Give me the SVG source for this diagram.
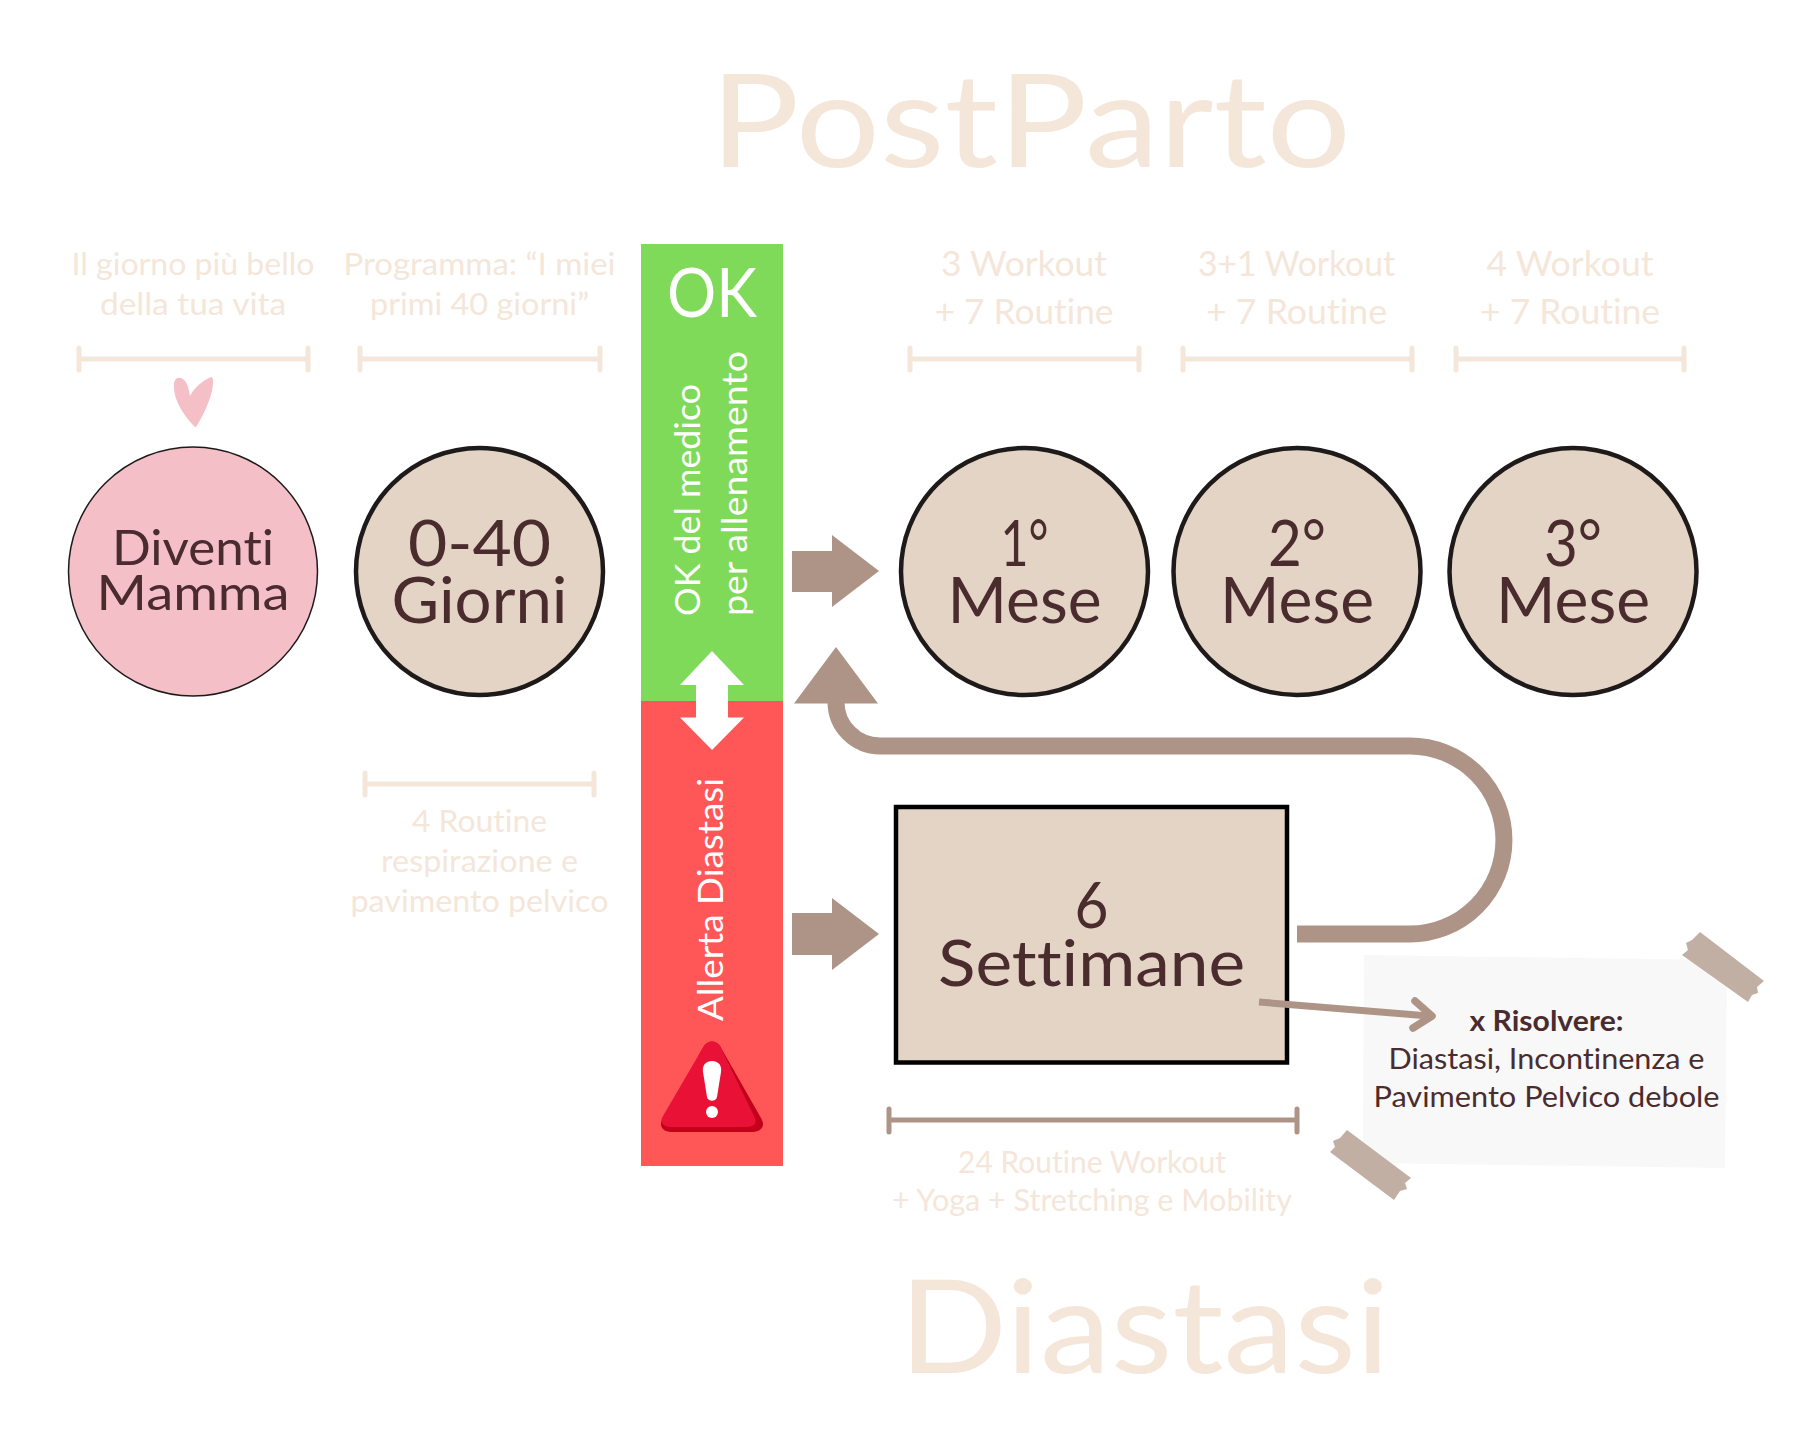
<svg xmlns="http://www.w3.org/2000/svg" width="1820" height="1440" viewBox="0 0 1820 1440">
<style>
text{font-family:"Lato","Noto Sans",sans-serif;text-anchor:middle;font-variant-ligatures:none}
.pale{fill:#f5e6da}
.dark{fill:#4a2c2e}
.white{fill:#fff}
.s{font-size:31px}
.m{font-size:34px}
.big{font-size:64px}
.circ{fill:#e3d4c5;stroke:#1e1a1a;stroke-width:4.5}
.bar{fill:none;stroke:#f5e6da;stroke-width:5;stroke-linecap:round}
.brown{fill:#ad9487}
.tape{fill:#c1afa3}
</style>
<rect width="1820" height="1440" fill="#fff"/>
<g id="title-postparto"><text class="pale" x="1030.5" y="167" font-size="129" textLength="641" lengthAdjust="spacingAndGlyphs">PostParto</text></g>
<g id="title-diastasi"><text class="pale" x="1144.5" y="1373" font-size="129" textLength="491" lengthAdjust="spacingAndGlyphs">Diastasi</text></g>

<g id="labels-top">
<text class="pale s" x="193" y="275" textLength="243" lengthAdjust="spacingAndGlyphs">Il giorno più bello</text>
<text class="pale s" x="193" y="315" textLength="186" lengthAdjust="spacingAndGlyphs">della tua vita</text>
<text class="pale s" x="479.5" y="275" textLength="272" lengthAdjust="spacingAndGlyphs">Programma: “I miei</text>
<text class="pale s" x="479.5" y="315" textLength="219" lengthAdjust="spacingAndGlyphs">primi 40 giorni”</text>
<text class="pale m" x="1024" y="276" textLength="166" lengthAdjust="spacingAndGlyphs">3 Workout</text>
<text class="pale m" x="1024" y="324" textLength="179" lengthAdjust="spacingAndGlyphs">+ 7 Routine</text>
<text class="pale m" x="1296.5" y="276" textLength="197" lengthAdjust="spacingAndGlyphs">3+1 Workout</text>
<text class="pale m" x="1296.5" y="324" textLength="181" lengthAdjust="spacingAndGlyphs">+ 7 Routine</text>
<text class="pale m" x="1570" y="276" textLength="167" lengthAdjust="spacingAndGlyphs">4 Workout</text>
<text class="pale m" x="1570" y="324" textLength="180" lengthAdjust="spacingAndGlyphs">+ 7 Routine</text>
</g>
<g id="bars">
<path class="bar" d="M79 359H308M79 348V370M308 348V370"/>
<path class="bar" d="M360 359H600M360 348V370M600 348V370"/>
<path class="bar" d="M910 359H1139M910 348V370M1139 348V370"/>
<path class="bar" d="M1183 359H1412M1183 348V370M1412 348V370"/>
<path class="bar" d="M1456 359H1684M1456 348V370M1684 348V370"/>
<path class="bar" d="M365 784H594M365 773V795M594 773V795"/>
<path class="bar" style="stroke:#ad9487" d="M889 1120H1297M889 1109V1132M1297 1109V1132"/>
</g>
<g id="labels-bottom">
<text class="pale s" x="479.5" y="832" textLength="135" lengthAdjust="spacingAndGlyphs">4 Routine</text>
<text class="pale s" x="479.5" y="872" textLength="197" lengthAdjust="spacingAndGlyphs">respirazione e</text>
<text class="pale s" x="479.5" y="912" textLength="258" lengthAdjust="spacingAndGlyphs">pavimento pelvico</text>
<text class="pale s" x="1092" y="1173" font-size="29" textLength="268" lengthAdjust="spacingAndGlyphs">24 Routine Workout</text>
<text class="pale s" x="1092" y="1211" font-size="29" textLength="400" lengthAdjust="spacingAndGlyphs">+ Yoga + Stretching e Mobility</text>
</g>

<g id="heart"><path fill="#f4bfc6" d="M195 427C186 418 174 402 174 387C173 377 180 376 184 380C188 384 189 390 190 396C194 388 202 381 211 377C214 377 213 385 212 391C209 403 202 418 196 427Z"/></g>

<g id="node-diventi"><circle cx="193" cy="571.5" r="124.5" fill="#f4bfc6" stroke="#1e1a1a" stroke-width="1.5"/>
<text class="dark" font-size="49" x="193" y="565" textLength="162" lengthAdjust="spacingAndGlyphs">Diventi</text>
<text class="dark" font-size="49" x="193" y="610" textLength="193" lengthAdjust="spacingAndGlyphs">Mamma</text></g>
<g id="node-040"><circle class="circ" cx="479.5" cy="571.5" r="123.5"/>
<text class="dark big" x="479.5" y="566" textLength="143" lengthAdjust="spacingAndGlyphs">0-40</text>
<text class="dark big" x="479.5" y="623" textLength="176" lengthAdjust="spacingAndGlyphs">Giorni</text></g>
<g id="node-1mese"><circle class="circ" cx="1024.5" cy="571.5" r="123.5"/>
<text class="dark big" x="1024.5" y="566" textLength="48" lengthAdjust="spacingAndGlyphs">1°</text>
<text class="dark big" x="1024.5" y="623" textLength="154" lengthAdjust="spacingAndGlyphs">Mese</text></g>
<g id="node-2mese"><circle class="circ" cx="1297" cy="571.5" r="123.5"/>
<text class="dark big" x="1297" y="566" textLength="58" lengthAdjust="spacingAndGlyphs">2°</text>
<text class="dark big" x="1297" y="623" textLength="154" lengthAdjust="spacingAndGlyphs">Mese</text></g>
<g id="node-3mese"><circle class="circ" cx="1573" cy="571.5" r="123.5"/>
<text class="dark big" x="1573" y="566" textLength="58" lengthAdjust="spacingAndGlyphs">3°</text>
<text class="dark big" x="1573" y="623" textLength="154" lengthAdjust="spacingAndGlyphs">Mese</text></g>

<g id="node-status">
<rect x="641" y="244" width="142" height="457" fill="#80da5a"/>
<rect x="641" y="701" width="142" height="465" fill="#ff5757"/>
<text class="white" x="712" y="317" font-size="67" textLength="90" lengthAdjust="spacingAndGlyphs">OK</text>
<text class="white" font-size="34" transform="translate(700 500) rotate(-90)" textLength="232" lengthAdjust="spacingAndGlyphs">OK del medico</text>
<text class="white" font-size="34" transform="translate(747 483.5) rotate(-90)" textLength="265" lengthAdjust="spacingAndGlyphs">per allenamento</text>
<text class="white" font-size="34" transform="translate(723 899.5) rotate(-90)" textLength="243" lengthAdjust="spacingAndGlyphs">Allerta Diastasi</text>
<path class="white" d="M712 651L744 685H728V717.5H744L712 750L680 717.5H696V685H680Z"/>
<path fill="#c4001a" d="M704 1046C708 1040 716 1040 720 1046L761 1118C766 1126 761 1132 753 1132H671C663 1132 658 1126 663 1118Z"/>
<path fill="#ea1136" d="M704 1046C708 1040 716 1040 720 1046L754 1116C758 1123 754 1127 747 1127H671C663 1127 659 1122 663 1116Z"/>
<path fill="#fff" d="M712 1061C719 1061 722 1066 721 1072L717 1097C716 1102 708 1102 707 1097L703 1072C702 1066 705 1061 712 1061Z"/>
<circle cx="712" cy="1112" r="6" fill="#fff"/>
</g>

<g id="node-settimane"><rect x="896" y="807" width="391" height="255.5" fill="#e3d4c5" stroke="#000" stroke-width="4.5"/>
<text class="dark big" x="1091.5" y="928" textLength="34" lengthAdjust="spacingAndGlyphs">6</text>
<text class="dark big" x="1091.5" y="986" textLength="307" lengthAdjust="spacingAndGlyphs">Settimane</text></g>

<g id="node-note">
<path fill="#f8f8f8" d="M1364 955L1727 960L1725 1168L1363 1163Z"/>
<path class="tape" d="M1700 932L1764 981L1757 987L1758 993L1752 995L1748 1002L1682 955L1688 950L1686 943L1692 940Z"/>
<path class="tape" d="M1347 1130L1411 1178L1405 1183L1407 1189L1400 1191L1394 1200L1330 1152L1335 1147L1333 1141L1340 1138Z"/>
<text class="dark" x="1546.5" y="1031" font-size="29" font-weight="700" textLength="154" lengthAdjust="spacingAndGlyphs">x Risolvere:</text>
<text class="dark" x="1546.5" y="1069" font-size="29" textLength="316" lengthAdjust="spacingAndGlyphs">Diastasi, Incontinenza e</text>
<text class="dark" x="1546.5" y="1107" font-size="29" textLength="346" lengthAdjust="spacingAndGlyphs">Pavimento Pelvico debole</text>
</g>

<g id="connectors">
<path class="brown" d="M792 551H832V535L879 571L832 607V592H792Z"/>
<path class="brown" d="M792 913H832V898L879 934L832 970V955H792Z"/>
<path fill="none" stroke="#ad9487" stroke-width="17" d="M1297 934H1410A93.5 93.5 0 0 0 1410 746H880A44 44 0 0 1 836 702"/>
<path class="brown" d="M836 647L878 703.5H794Z"/>
<path fill="none" stroke="#ad9487" stroke-width="7" d="M1259 1002L1429 1016"/>
<path fill="none" stroke="#ad9487" stroke-width="7.5" stroke-linecap="round" stroke-linejoin="round" d="M1415 1001L1432 1016L1413 1028"/>
</g>
</svg>
